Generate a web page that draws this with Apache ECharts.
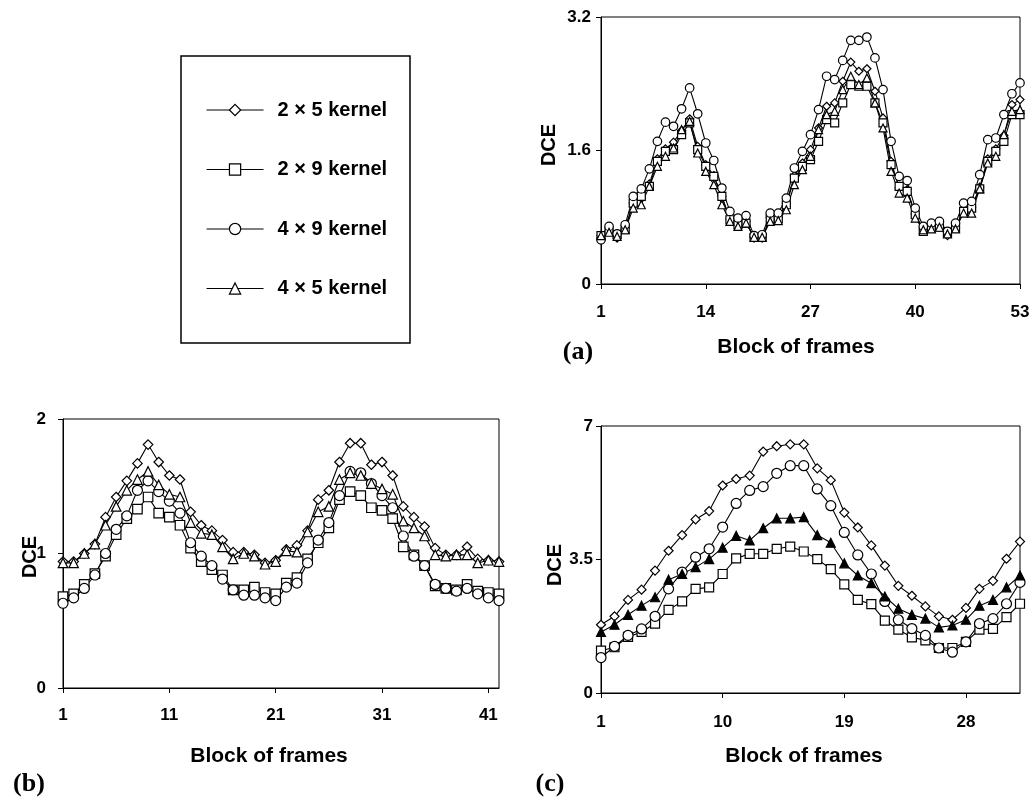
<!DOCTYPE html>
<html>
<head>
<meta charset="utf-8">
<title>DCE per block of frames</title>
<script src="https://cdn.jsdelivr.net/npm/echarts@6/dist/echarts.min.js"></script>
<style>
  html, body { margin: 0; padding: 0; background: #fff; }
  #chart { width: 1033px; height: 801px; }
</style>
</head>
<body>
<div id="chart"></div>
<script>
// ---- kernels (legend order) ----
const kernelNames = ['2 \u00d7 5 kernel', '2 \u00d7 9 kernel', '4 \u00d7 9 kernel', '4 \u00d7 5 kernel'];
const kernelSymbols = ['diamond', 'rect', 'circle', 'triangle'];

// ---- panel (a): 53 blocks ----
const framesA = ['1','2','3','4','5','6','7','8','9','10','11','12','13','14','15','16','17','18','19','20',
  '21','22','23','24','25','26','27','28','29','30','31','32','33','34','35','36','37','38','39','40',
  '41','42','43','44','45','46','47','48','49','50','51','52','53'];
const a2x5 = [0.58,0.64,0.55,0.67,0.97,1.03,1.20,1.50,1.62,1.70, 1.84,1.98,1.65,1.43,1.30,1.05,0.78,0.72,0.75,0.55,
  0.55,0.80,0.80,0.97,1.30,1.45,1.61,1.87,2.13,2.17, 2.43,2.66,2.55,2.58,2.31,1.99,1.47,1.15,1.13,0.84,
  0.65,0.68,0.70,0.58,0.68,0.89,0.92,1.16,1.50,1.62, 1.78,2.15,2.21];
const a2x9 = [0.58,0.63,0.59,0.65,0.97,1.05,1.17,1.47,1.59,1.61, 1.79,1.93,1.61,1.41,1.29,1.05,0.77,0.71,0.73,0.56,
  0.56,0.78,0.78,0.95,1.27,1.41,1.49,1.71,1.97,1.93, 2.17,2.39,2.37,2.37,2.17,1.93,1.43,1.17,1.11,0.83,
  0.63,0.67,0.68,0.61,0.67,0.87,0.91,1.14,1.47,1.59, 1.71,2.03,2.03];
const a4x9 = [0.53,0.69,0.60,0.71,1.05,1.14,1.38,1.71,1.94,1.89, 2.10,2.35,2.04,1.69,1.48,1.15,0.87,0.79,0.82,0.58,
  0.59,0.85,0.85,1.03,1.39,1.59,1.79,2.09,2.49,2.45, 2.68,2.92,2.92,2.96,2.71,2.33,1.71,1.29,1.24,0.91,
  0.69,0.73,0.75,0.63,0.73,0.97,0.99,1.31,1.73,1.75, 2.03,2.28,2.41];
const a4x5 = [0.58,0.62,0.57,0.65,0.91,0.95,1.17,1.41,1.53,1.63, 1.85,1.95,1.57,1.35,1.19,0.95,0.75,0.69,0.73,0.56,
  0.56,0.75,0.76,0.89,1.19,1.37,1.53,1.85,2.03,2.07, 2.33,2.49,2.39,2.47,2.17,1.87,1.35,1.09,1.03,0.79,
  0.65,0.66,0.68,0.60,0.66,0.85,0.85,1.14,1.45,1.53, 1.79,2.07,2.09];

// ---- panel (b): 42 blocks ----
const framesB = ['1','2','3','4','5','6','7','8','9','10','11','12','13','14','15','16','17','18','19','20',
  '21','22','23','24','25','26','27','28','29','30','31','32','33','34','35','36','37','38','39','40','41','42'];
const b2x5 = [0.94,0.94,1.00,1.07,1.27,1.42,1.54,1.67,1.81,1.68, 1.58,1.55,1.31,1.21,1.17,1.10,1.01,1.01,0.99,0.93,
  0.95,1.03,1.06,1.17,1.40,1.47,1.68,1.82,1.82,1.66, 1.68,1.58,1.35,1.27,1.20,1.04,0.99,0.99,1.05,0.96, 0.95,0.94];
const b2x9 = [0.68,0.70,0.77,0.85,0.98,1.14,1.26,1.33,1.42,1.30, 1.27,1.21,1.04,0.94,0.88,0.84,0.73,0.73,0.75,0.71,
  0.70,0.78,0.82,0.96,1.08,1.19,1.40,1.46,1.43,1.34, 1.32,1.26,1.05,0.99,0.91,0.76,0.74,0.73,0.77,0.72, 0.71,0.70];
const b4x9 = [0.63,0.67,0.74,0.84,1.00,1.18,1.28,1.47,1.54,1.46, 1.39,1.30,1.08,0.98,0.91,0.81,0.73,0.69,0.69,0.67,
  0.65,0.75,0.78,0.93,1.10,1.23,1.43,1.61,1.60,1.52, 1.43,1.34,1.13,0.98,0.91,0.77,0.74,0.72,0.74,0.70, 0.67,0.65];
const b4x5 = [0.93,0.93,1.00,1.07,1.21,1.35,1.47,1.55,1.61,1.51, 1.44,1.42,1.23,1.15,1.14,1.05,0.96,1.00,0.98,0.92,
  0.94,1.02,1.01,1.16,1.31,1.35,1.55,1.60,1.58,1.52, 1.48,1.44,1.24,1.19,1.13,0.99,0.98,0.99,0.99,0.93, 0.95,0.94];

// ---- panel (c): 32 blocks ----
const framesC = ['1','2','3','4','5','6','7','8','9','10','11','12','13','14','15','16','17','18','19','20',
  '21','22','23','24','25','26','27','28','29','30','31','32'];
const c2x5 = [1.79,2.01,2.44,2.71,3.21,3.73,4.14,4.55,4.77,5.44, 5.61,5.70,6.33,6.47,6.52,6.52,5.89,5.58,4.73,4.34,
  3.87,3.34,2.81,2.55,2.27,2.01,1.92,2.23,2.73,2.94, 3.52,3.97];
const c2x9 = [1.11,1.20,1.47,1.60,1.82,2.18,2.40,2.73,2.77,3.12, 3.53,3.65,3.65,3.78,3.84,3.71,3.51,3.25,2.85,2.44,
  2.33,1.90,1.66,1.46,1.38,1.18,1.18,1.34,1.66,1.68, 1.99,2.34];
const c4x9 = [0.93,1.22,1.51,1.68,2.01,2.73,3.17,3.56,3.78,4.35, 4.97,5.31,5.41,5.76,5.96,5.96,5.35,4.91,4.21,3.62,
  3.12,2.40,1.92,1.69,1.51,1.18,1.07,1.34,1.82,1.95, 2.34,2.90];
const c4x5 = [1.60,1.79,2.05,2.29,2.51,2.97,3.12,3.30,3.51,3.81, 4.12,4.00,4.32,4.58,4.58,4.61,4.14,3.94,3.40,3.08,
  2.88,2.53,2.21,2.05,1.95,1.72,1.77,1.92,2.29,2.44, 2.77,3.08];

// ---- axis ranges ----
const yA = { min: 0, max: 3.2, interval: 1.6 };
const yB = { min: 0, max: 2, interval: 1 };
const yC = { min: 0, max: 7, interval: 3.5 };

const SANS = '"Liberation Sans", Arial, sans-serif';
const SERIF = '"Liberation Serif", "Times New Roman", serif';

function gridBox(left, top, width, height) {
  return { left, top, width, height, show: true, borderColor: '#000', borderWidth: 1, containLabel: false };
}

function xAxisCat(gridIndex, cats, step, margin) {
  return {
    type: 'category', gridIndex, data: cats, boundaryGap: false,
    axisLine: { lineStyle: { color: '#000', width: 1 } },
    axisTick: { show: true, interval: step - 1, length: 5, lineStyle: { color: '#000' } },
    axisLabel: { interval: step - 1, margin, color: '#000', fontFamily: SANS, fontWeight: 'bold', fontSize: 17 },
    splitLine: { show: false }
  };
}

function yAxisVal(gridIndex, range, margin) {
  return {
    type: 'value', gridIndex, min: range.min, max: range.max, interval: range.interval,
    axisLine: { show: true, lineStyle: { color: '#000', width: 1 } },
    axisTick: { show: true, length: 5, lineStyle: { color: '#000' } },
    axisLabel: { margin, color: '#000', fontFamily: SANS, fontWeight: 'bold', fontSize: 17 },
    splitLine: { show: false }
  };
}

function kernelSeries(idx, axisIndex, values, size, fill) {
  return {
    type: 'line', name: kernelNames[idx], xAxisIndex: axisIndex, yAxisIndex: axisIndex,
    data: values, symbol: kernelSymbols[idx], symbolSize: size, showAllSymbol: true,
    lineStyle: { color: '#000', width: 1.1 },
    itemStyle: { color: fill || '#fff', borderColor: '#000', borderWidth: 1.2 },
    emphasis: { disabled: true }, animation: false
  };
}

function label(text, x, y, font, rotate) {
  return {
    type: 'text', x, y, rotation: rotate ? Math.PI / 2 : 0,
    style: { text, font, fill: '#000', align: 'center', verticalAlign: 'middle',
             textAlign: 'center', textVerticalAlign: 'middle' }
  };
}

const chart = echarts.init(document.getElementById('chart'), null, { renderer: 'canvas' });

chart.setOption({
  backgroundColor: '#fff',
  animation: false,
  grid: [
    gridBox(601, 17, 419, 267),   // (a)
    gridBox(63, 419, 436, 269),   // (b)
    gridBox(601, 426, 419, 267)   // (c)
  ],
  xAxis: [
    xAxisCat(0, framesA, 13, 20),
    xAxisCat(1, framesB, 10, 19),
    xAxisCat(2, framesC, 9, 21)
  ],
  yAxis: [
    yAxisVal(0, yA, 10),
    yAxisVal(1, yB, 17),
    yAxisVal(2, yC, 8)
  ],
  legend: {
    data: kernelNames,
    orient: 'vertical', left: 206, top: 100, padding: 0,
    itemWidth: 57, itemHeight: 14, itemGap: 39.5,
    itemStyle: { borderWidth: 1.2 },
    lineStyle: { width: 1.1 },
    textStyle: { color: '#000', fontFamily: SANS, fontWeight: 'bold', fontSize: 20, padding: [0, 0, 0, 9] },
    selectedMode: false
  },
  graphic: [
    { type: 'rect', shape: { x: 181, y: 56, width: 229, height: 287 },
      style: { fill: 'none', stroke: '#000', lineWidth: 1.5 } },
    label('DCE', 549, 145, 'bold 20px ' + SANS, true),
    label('DCE', 30, 557, 'bold 20px ' + SANS, true),
    label('DCE', 555, 565, 'bold 20px ' + SANS, true),
    label('Block of frames', 796, 347, 'bold 21px ' + SANS),
    label('Block of frames', 269, 756, 'bold 21px ' + SANS),
    label('Block of frames', 804, 756, 'bold 21px ' + SANS),
    label('(a)', 578, 352, 'bold 26px ' + SERIF),
    label('(b)', 29, 784, 'bold 26px ' + SERIF),
    label('(c)', 550, 784, 'bold 26px ' + SERIF)
  ],
  series: [
    kernelSeries(0, 0, a2x5, 8),
    kernelSeries(1, 0, a2x9, 8),
    kernelSeries(2, 0, a4x9, 8.5),
    kernelSeries(3, 0, a4x5, 8),
    kernelSeries(0, 1, b2x5, 9.5),
    kernelSeries(1, 1, b2x9, 9.5),
    kernelSeries(2, 1, b4x9, 10),
    kernelSeries(3, 1, b4x5, 9.5),
    kernelSeries(0, 2, c2x5, 9),
    kernelSeries(1, 2, c2x9, 9),
    kernelSeries(2, 2, c4x9, 10),
    kernelSeries(3, 2, c4x5, 9, '#000')
  ]
});
</script>
</body>
</html>
